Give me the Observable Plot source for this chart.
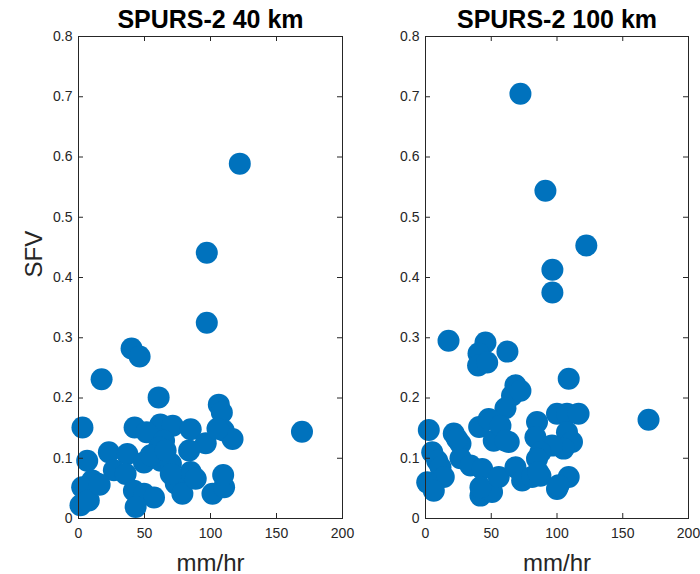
<!DOCTYPE html>
<html>
<head>
<meta charset="utf-8">
<script src="https://cdn.jsdelivr.net/npm/d3@7"></script>
<script src="https://cdn.jsdelivr.net/npm/@observablehq/plot@0.6"></script>
<style>
  html, body { margin: 0; padding: 0; background: #fff; }
  #wrap { position: relative; width: 700px; height: 574px; overflow: hidden; font-family: "Liberation Sans", Arial, sans-serif; }
  .panel { position: absolute; top: 0; }
</style>
</head>
<body>
<div id="wrap">
  <div class="panel" id="p1" style="left:0px"></div>
  <div class="panel" id="p2" style="left:350px"></div>
</div>
<script>
const titles = ["SPURS-2 40 km", "SPURS-2 100 km"];
const xLabel = "mm/hr";
const yLabel = "SFV";
const xTicks = [0, 50, 100, 150, 200];
const yTicks = [0, 0.1, 0.2, 0.3, 0.4, 0.5, 0.6, 0.7, 0.8];
const yTickLabels = ["0", "0.1", "0.2", "0.3", "0.4", "0.5", "0.6", "0.7", "0.8"];

const rain40 = [122.2, 97.2, 97.2, 40.2, 46.3, 17.5, 60.7, 106.3, 108.6, 169.3, 3, 42.5, 62, 71.4, 85, 51.6, 110, 116.7, 96.4, 83.8, 23, 6.6, 64.8, 37, 49.6, 61, 62.3, 70, 54.7, 26.8, 35.7, 14.2, 10.4, 2.8, 1.5, 7.8, 42, 49.6, 57.2, 43.3, 73.7, 78.7, 85, 88.8, 69.9, 101.5, 110.3, 109.6, 66, 16, 105.3];
const sfv40 = [0.589, 0.441, 0.325, 0.282, 0.269, 0.231, 0.201, 0.189, 0.176, 0.144, 0.151, 0.151, 0.156, 0.154, 0.148, 0.143, 0.146, 0.132, 0.125, 0.113, 0.110, 0.096, 0.129, 0.107, 0.093, 0.118, 0.096, 0.091, 0.105, 0.080, 0.074, 0.058, 0.063, 0.052, 0.022, 0.030, 0.046, 0.041, 0.035, 0.019, 0.058, 0.041, 0.077, 0.066, 0.074, 0.041, 0.052, 0.072, 0.113, 0.056, 0.149];

const rain100 = [72.2, 91.2, 122.3, 96.5, 96.5, 17.5, 45.6, 62.3, 40.3, 40, 46.9, 108.9, 68.4, 65.8, 72.2, 60.8, 2.5, 21.5, 26.6, 26.6, 40.8, 48.1, 51.9, 57, 63.3, 84.8, 83.6, 100, 107.6, 116.4, 107.6, 111.4, 105, 96.2, 87.4, 84.8, 5.1, 8.9, 11.4, 13.9, 1.3, 6.3, 34.2, 43.1, 41.8, 50.6, 41.8, 55.7, 68.4, 73.5, 81, 87.4, 100, 108.9, 169.6, 24, 60.8, 85.6, 101.3];
const sfv100 = [0.705, 0.544, 0.453, 0.413, 0.375, 0.295, 0.292, 0.277, 0.274, 0.254, 0.259, 0.232, 0.221, 0.204, 0.212, 0.183, 0.147, 0.141, 0.124, 0.100, 0.152, 0.165, 0.129, 0.154, 0.127, 0.160, 0.135, 0.174, 0.174, 0.174, 0.143, 0.127, 0.116, 0.121, 0.110, 0.099, 0.110, 0.096, 0.085, 0.069, 0.060, 0.046, 0.088, 0.082, 0.038, 0.044, 0.052, 0.069, 0.085, 0.063, 0.069, 0.071, 0.049, 0.069, 0.164, 0.132, 0.129, 0.077, 0.055];

const blue = "#0072BD";
const axisColor = "#262626";

function panel(xs, ys, title, showYLabel, mLeft, mRight) {
  const W = 350, H = 574, mTop = 36, mBottom = 56;
  const fw = W - mLeft - mRight, fh = H - mTop - mBottom;
  const tick = 5;
  const pts = xs.map((x, i) => ({x, y: ys[i]}));
  const marks = [
    Plot.dot(pts, {x: "x", y: "y", r: 11, fill: blue, stroke: "none"}),
    Plot.frame({stroke: axisColor, strokeWidth: 1}),
    Plot.ruleX(xTicks, {x: d => d, insetTop: fh - tick, stroke: axisColor}),
    Plot.ruleX(xTicks, {x: d => d, insetBottom: fh - tick, stroke: axisColor}),
    Plot.ruleY(yTicks, {y: d => d, insetRight: fw - tick, stroke: axisColor}),
    Plot.ruleY(yTicks, {y: d => d, insetLeft: fw - tick, stroke: axisColor}),
    Plot.axisX(xTicks, {anchor: "bottom", tickSize: 0, tickPadding: 10, fontSize: 14, fill: axisColor, label: null, tickFormat: d => String(d)}),
    Plot.axisY(yTicks, {anchor: "left", tickSize: 0, tickPadding: 6, fontSize: 14, fill: axisColor, label: null, tickFormat: (d, i) => yTickLabels[yTicks.indexOf(d)]}),
    Plot.text([title], {text: d => d, frameAnchor: "top", dy: -9, lineAnchor: "bottom", fontSize: 25, fontWeight: "bold", fill: "#000"}),
    Plot.text([xLabel], {text: d => d, frameAnchor: "bottom", dy: 52, lineAnchor: "bottom", fontSize: 24, fill: axisColor})
  ];
  if (showYLabel) {
    marks.push(Plot.text([yLabel], {text: d => d, frameAnchor: "left", dx: -44, rotate: -90, lineAnchor: "middle", fontSize: 24, fill: axisColor}));
  }
  return Plot.plot({
    width: W, height: H,
    marginLeft: mLeft, marginRight: mRight, marginTop: mTop, marginBottom: mBottom,
    style: {fontFamily: '"Liberation Sans", Arial, sans-serif', background: "transparent", overflow: "visible"},
    x: {domain: [0, 200], axis: null},
    y: {domain: [0, 0.8], axis: null},
    marks
  });
}

document.getElementById("p1").appendChild(panel(rain40, sfv40, titles[0], true, 78, 8));
document.getElementById("p2").appendChild(panel(rain100, sfv100, titles[1], false, 75, 12));
</script>
</body>
</html>
